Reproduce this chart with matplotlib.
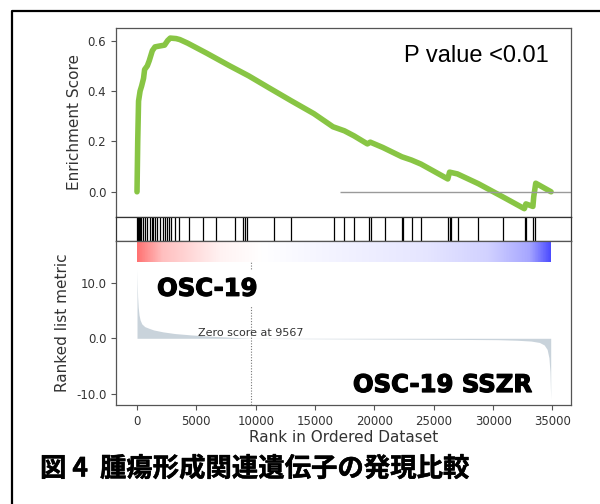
import numpy as np
import matplotlib
matplotlib.use("Agg")
import matplotlib.pyplot as plt
from matplotlib.colors import LinearSegmentedColormap
from matplotlib.lines import Line2D
import matplotlib.patheffects as pe

# ---------------- data ----------------
es_x = [0, 60, 130, 260, 390, 550, 640, 870, 1030, 1290, 1515, 1840, 2320, 2580,
        2800, 3290, 3610, 4260, 5870, 7800, 9410, 11030, 12960, 14900, 16510,
        17470, 18280, 19410, 19650, 20700, 22310, 23120, 23920, 26180, 26330,
        26990, 28760, 30850, 32630, 32760, 33350, 33420, 33590, 34880]
es_y = [0.0, 0.20, 0.36, 0.40, 0.42, 0.45, 0.485, 0.50, 0.52, 0.56, 0.575, 0.578,
        0.582, 0.60, 0.61, 0.608, 0.604, 0.59, 0.55, 0.50, 0.46, 0.415, 0.362,
        0.31, 0.258, 0.242, 0.222, 0.190, 0.197, 0.176, 0.139, 0.126, 0.110,
        0.051, 0.078, 0.071, 0.032, -0.021, -0.067, -0.048, -0.058, -0.02, 0.034, 0.0]

hits = [25, 110, 190, 280, 360, 530, 700, 870, 1100, 1240, 1380, 1540, 1710, 1940,
        2220, 2360, 2550, 2670, 2840, 3230, 3570, 4400, 5600, 6660, 8260, 8900,
        9100, 9240, 11500, 12970, 16620, 17450, 18300, 19570, 19700, 20900, 22310,
        22440, 23130, 23930, 26200, 26330, 26430, 27000, 28700, 30860, 32660,
        32780, 33350, 33530]

rank_x = [0, 20, 50, 100, 170, 260, 400, 650, 1000, 1400, 2200, 3200, 4600, 6500,
          8500, 9567, 12000, 17000, 22000, 27000, 30400, 32000, 33200, 33900,
          34300, 34550, 34700, 34790, 34850]
rank_y = [12.3, 10.0, 7.5, 5.6, 4.2, 3.3, 2.6, 2.1, 1.8, 1.5, 1.15, 0.85, 0.6, 0.35,
          0.12, 0.0, -0.05, -0.1, -0.15, -0.2, -0.25, -0.35, -0.5, -0.75, -1.2,
          -2.0, -3.5, -6.0, -11.0]

zero_score = 9567
zero_line_start = 17070
n_genes = 34850
p_text = "P value <0.01"
label_top = "OSC-19"
label_bottom = "OSC-19 SSZR"
caption = "図 4  腫瘍形成関連遺伝子の発現比較"
xticks = [0, 5000, 10000, 15000, 20000, 25000, 30000, 35000]
es_ticks = [0.0, 0.2, 0.4, 0.6]
rank_ticks = [-10.0, 0.0, 10.0]

# ---------------- figure ----------------
W, H = 600, 504
fig = plt.figure(figsize=(W / 100, H / 100), dpi=100)
fig.patch.set_facecolor("white")

left, right = 116 / W, 571 / W
wid = right - left
def ypos(top_px, bot_px):
    return 1 - bot_px / H, (bot_px - top_px) / H

b, h = ypos(28, 217)
ax_es = fig.add_axes([left, b, wid, h])
b, h = ypos(217, 241)
ax_hit = fig.add_axes([left, b, wid, h])
b, h = ypos(241, 405)
ax_rk = fig.add_axes([left, b, wid, h])

xlim = (-1770, 36560)
spine_c = "#555555"
tick_c = "#333333"

for ax in (ax_es, ax_hit, ax_rk):
    ax.set_xlim(*xlim)
    for s in ax.spines.values():
        s.set_color(spine_c)
        s.set_linewidth(0.9)
    ax.tick_params(colors=spine_c, labelcolor=tick_c, labelsize=8.5, width=0.8, length=3.5)

heavy = [pe.withStroke(linewidth=0.9, foreground="black")]

# ES panel
ax_es.plot(es_x, es_y, color="#88C544", lw=4, solid_capstyle="round", solid_joinstyle="round")
ax_es.hlines(0, zero_line_start, xlim[1], color="#9a9a9a", lw=1)
ax_es.set_ylim(-0.1, 0.65)
ax_es.set_yticks(es_ticks)
ax_es.set_yticklabels([f"{t:.1f}" for t in es_ticks])
ax_es.set_xticks([])
ax_es.set_ylabel("Enrichment Score", fontsize=11, color=tick_c)
ax_es.text(34700, 0.54, p_text, fontsize=17, family="Liberation Sans",
           ha="right", va="center", color="black")

# hits panel
ax_hit.vlines(hits, 0, 1, color="black", lw=0.9)
ax_hit.set_ylim(0, 1)
ax_hit.set_xticks([])
ax_hit.set_yticks([])
for s in ax_hit.spines.values():
    s.set_color("#333333")

# ranked metric panel
cmap = LinearSegmentedColormap.from_list("grad", [
    (0.00, (1.0, 0.45, 0.45)),
    (0.06, (1.0, 0.75, 0.75)),
    (0.20, (1.0, 0.95, 0.95)),
    (0.30, (1.0, 1.0, 1.0)),
    (0.45, (0.96, 0.96, 1.0)),
    (0.70, (0.90, 0.90, 1.0)),
    (0.85, (0.82, 0.82, 1.0)),
    (0.95, (0.65, 0.65, 1.0)),
    (1.00, (0.30, 0.30, 1.0)),
])
grad = np.linspace(0, 1, 512)[None, :]
ax_rk.imshow(grad, cmap=cmap, aspect="auto", extent=(0, n_genes, 13.7, 17.5),
             interpolation="bilinear", zorder=1)
ax_rk.fill_between(rank_x, rank_y, 0, color="#C9D3DB", lw=0, zorder=2)
ax_rk.vlines(zero_score, -12.0, 13.7, color="#777777", lw=0.8, linestyles=(0, (1, 1.5)), zorder=3)
ax_rk.text(zero_score, 0.9, f"Zero score at {zero_score}", fontsize=8, color="#333333",
           ha="center", va="center", zorder=4)
ax_rk.text(1690, 8.9, label_top, fontsize=17.5, fontweight="bold", ha="left", va="center",
           color="black", zorder=5, path_effects=heavy,
           bbox=dict(facecolor="white", edgecolor="none", pad=4))
ax_rk.text(33280, -8.4, label_bottom, fontsize=17.5, fontweight="bold", ha="right",
           va="center", color="black", zorder=5, path_effects=heavy)
ax_rk.set_ylim(-12.0, 17.5)
ax_rk.set_yticks(rank_ticks)
ax_rk.set_yticklabels([f"{t:.1f}" for t in rank_ticks])
ax_rk.set_xticks(xticks)
ax_rk.set_xticklabels([str(t) for t in xticks])
ax_rk.set_ylabel("Ranked list metric", fontsize=11, color=tick_c)
ax_rk.set_xlabel("Rank in Ordered Dataset", fontsize=11, color=tick_c, labelpad=2)

fig.align_ylabels([ax_es, ax_rk])

# caption and frame
fig.text(40 / W, 1 - 469 / H, caption, fontsize=19, fontweight="bold",
         family=["Noto Sans CJK JP", "DejaVu Sans"], ha="left", va="center",
         path_effects=[pe.withStroke(linewidth=0.35, foreground="black")])
fig.add_artist(Line2D([11.7 / W, 11.7 / W, 1.0], [0.0, 1 - 10.5 / H, 1 - 10.5 / H],
                      transform=fig.transFigure, color="black", lw=1.6))

fig.savefig("out.png", dpi=100, facecolor="white")
